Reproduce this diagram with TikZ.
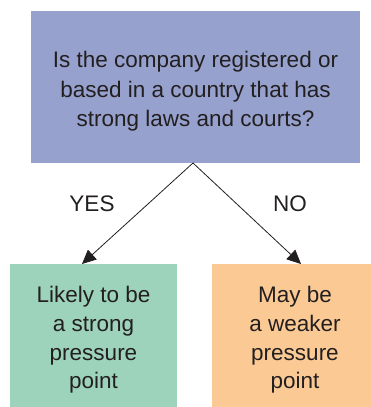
\documentclass[tikz,border=0pt]{standalone}
\usepackage{fontspec}
\setmainfont{Liberation Sans}
\usetikzlibrary{arrows.meta}
\definecolor{qcol}{RGB}{150,161,206}
\definecolor{ycol}{RGB}{157,211,187}
\definecolor{ncol}{RGB}{251,201,148}
\definecolor{ink}{RGB}{35,31,32}
\begin{document}
\begin{tikzpicture}[x=1pt,y=1pt,
  box/.style={inner sep=0pt, align=center, text=ink,
    font=\fontsize{22.5}{29.5}\selectfont},
  lbl/.style={inner sep=0pt, text=ink, font=\fontsize{22.5}{27}\selectfont},
  conn/.style={draw=ink, line width=0.8pt, -{Triangle[length=14pt,width=13pt]}}]
\useasboundingbox (0,0) rectangle (371,407);
% boxes
\fill[qcol] (31,244) rectangle (360,396);
\node[box] (q) at (195.5,315.5) {Is the company registered or\\based in a country that has\\strong laws and courts?};
\fill[ycol] (10,0) rectangle (177,143);
\node[box, font=\fontsize{22.5}{28.7}\selectfont] (y) at (93.5,67) {Likely to be\\a strong\\pressure\\point};
\fill[ncol] (212,0) rectangle (371,143);
\node[box, font=\fontsize{22.5}{28.7}\selectfont] (n) at (295,67) {May be\\a weaker\\pressure\\point};
% connectors
\coordinate (apex) at (193,244);
\coordinate (ty) at (82,143);
\coordinate (tn) at (301,143);
\draw[conn] (apex) -- (ty);
\draw[conn] (apex) -- (tn);
\node[lbl] (yes) at (92,203) {YES};
\node[lbl] (no) at (290,203) {NO};
\end{tikzpicture}
\end{document}
